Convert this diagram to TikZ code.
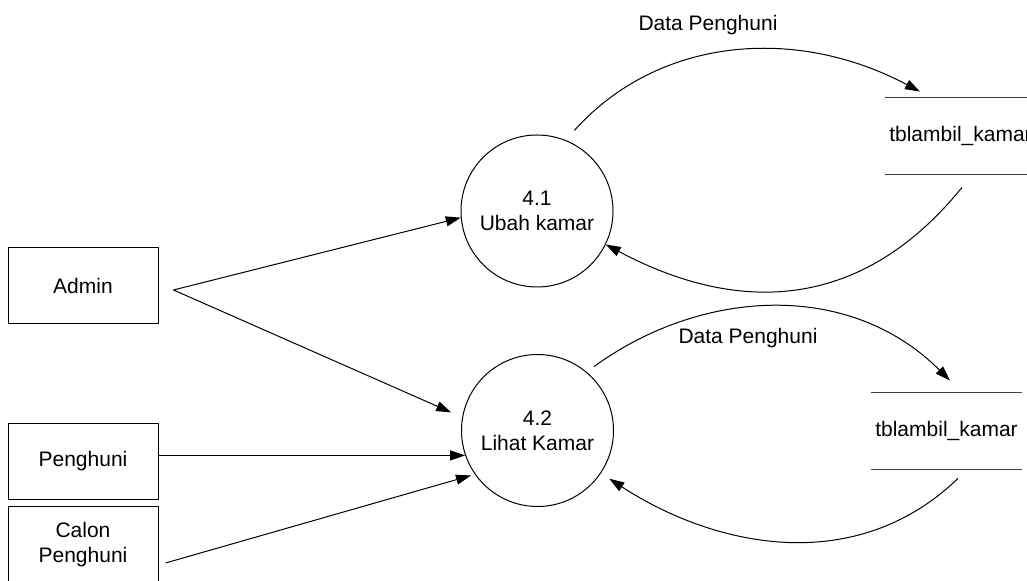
\documentclass[tikz,border=0pt]{standalone}
\usepackage{fontspec}
\setmainfont{Liberation Sans}
\usetikzlibrary{positioning,arrows.meta,calc}

\begin{document}
\begin{tikzpicture}[x=0.5pt, y=-0.5pt, >={Triangle[length=7.5pt,width=5pt]},
  every node/.style={font=\fontsize{10.5}{12.5}\selectfont},
  entity/.style={draw, line width=0.5pt, minimum width=75pt, minimum height=38pt, align=center, inner sep=0pt},
  process/.style={draw, circle, line width=0.5pt, minimum size=76pt, align=center, inner sep=0pt},
  store/.style={minimum width=75.5pt, minimum height=38pt, inner sep=0pt},
  flow/.style={->, line width=0.5pt}]

\useasboundingbox (0,0) rectangle (1027,581);

% entities
\node [entity] (admin) at (83,286) {Admin};
\node [entity] (penghuni) at (83,461.5) {Penghuni};
\node [entity] (calon) at (83,545) {Calon\\Penghuni};

% processes
\node [process] (ubah) at (537,211) {4.1\\Ubah kamar};
\node [process] (lihat) at (537.5,430.5) {4.2\\Lihat Kamar};

% data stores
\node [store] (store-1) at (960.5,136) {tblambil\_kamar};
\node [store] (store-2) at (946.5,431) {tblambil\_kamar};

\foreach \s in {store-1,store-2} {
  \draw [line width=0.75pt, black!75] (\s.north west) -- (\s.north east);
  \draw [line width=0.75pt, black!75] (\s.south west) -- (\s.south east);
}

% labels
\node (label-1) at (708,25) {Data Penghuni};
\node (label-2) at (748,338) {Data Penghuni};

% arrows
\coordinate (admin-out) at ([xshift=7.5pt,yshift=-2pt]admin.east);

\draw [flow] (admin-out) -- (ubah.185);
\draw [flow, shorten >=6pt] (admin-out) -- (lihat.170);
\draw [flow] (penghuni.east |- lihat.199) -- (lihat.199);
\draw [flow, shorten >=2pt] ([xshift=3.5pt,yshift=-9pt]calon.east) -- (lihat.215);

\draw [flow, shorten <=6.5pt] (ubah.68) to[out=48, in=152] ($(store-1.north)+(-40.5,-6)$);
\draw [flow] ($(store-1.south)+(1.5,13)$) to[out=-129, in=-28, looseness=1.1] (ubah.-26);

\draw [flow, shorten <=4.5pt] (lihat.50) to[out=36, in=135] ($(store-2.north)+(3.5,-12)$);
\draw [flow, shorten >=5pt] ($(store-2.south)+(11.5,9)$) to[out=-136, in=-33] (lihat.-34);
\end{tikzpicture}
\end{document}
